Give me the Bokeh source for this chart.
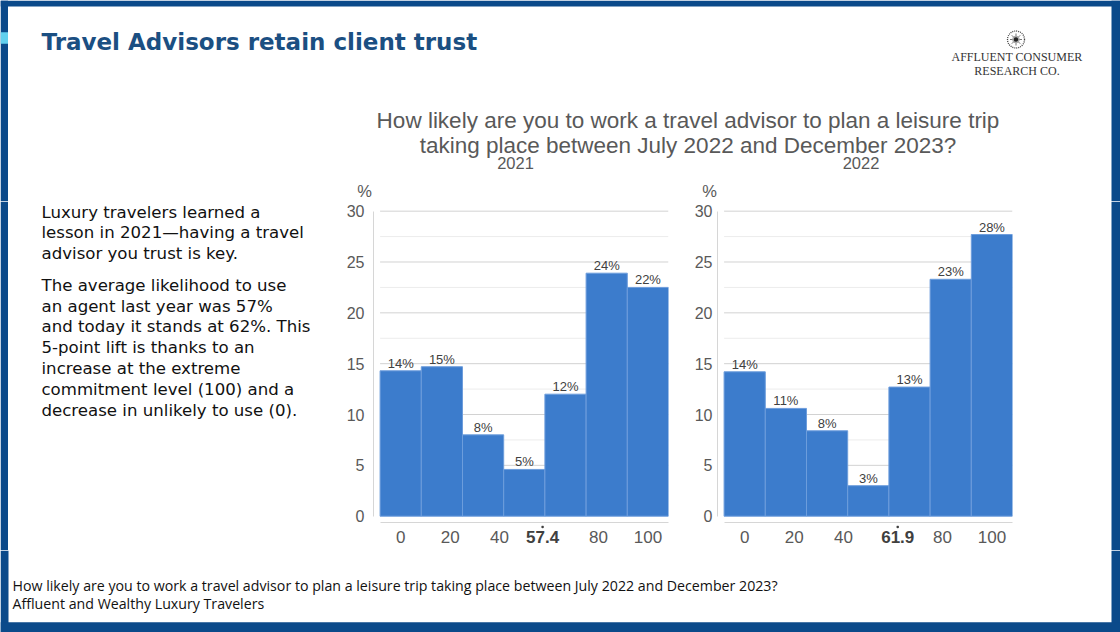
from bokeh.plotting import figure
from bokeh.models import Range1d, FixedTicker
from bokeh.layouts import row, column
from bokeh.embed import file_html
from bokeh.resources import INLINE
from bokeh.core.properties import value

# ---------------- data ----------------
BIN_CENTERS = [0, 16.667, 33.333, 50, 66.667, 83.333, 100]
BIN_WIDTH = 16.667
SHARE_2021 = [14.3, 14.7, 8.0, 4.6, 12.0, 23.9, 22.5]
LABELS_2021 = ["14%", "15%", "8%", "5%", "12%", "24%", "22%"]
MEAN_2021 = 57.4
SHARE_2022 = [14.2, 10.6, 8.4, 3.0, 12.7, 23.3, 27.7]
LABELS_2022 = ["14%", "11%", "8%", "3%", "13%", "23%", "28%"]
MEAN_2022 = 61.9
X_TICKS = [0, 20, 40, 80, 100]
X_TICK_LABELS = ["0", "20", "40", "80", "100"]
Y_TICKS = [0, 5, 10, 15, 20, 25, 30]
GRID_MAJOR = [5, 10, 15, 20, 25, 30]
GRID_MINOR = [2.5, 7.5, 12.5, 17.5, 22.5, 27.5]

SLIDE_TITLE = "Travel Advisors retain client trust"
CHART_TITLE = ["How likely are you to work a travel advisor to plan a leisure trip",
               "taking place between July 2022 and December 2023?"]
YEARS = ["2021", "2022"]
BODY_P1 = ["Luxury travelers learned a", "lesson in 2021\u2014having a travel",
           "advisor you trust is key."]
BODY_P2 = ["The average likelihood to use", "an agent last year was 57%",
           "and today it stands at 62%. This", "5-point lift is thanks to an",
           "increase at the extreme", "commitment level (100) and a",
           "decrease in unlikely to use (0)."]
FOOTER = ["How likely are you to work a travel advisor to plan a leisure trip taking place between July 2022 and December 2023?",
          "Affluent and Wealthy Luxury Travelers"]
LOGO = ["AFFLUENT CONSUMER", "RESEARCH CO."]

BLUE = "#0b4a8a"
CYAN = "#62d0ee"
BAR = "#3c7ccc"
GREY_TXT = "#595959"
AX = "#d6d6d6"
X_RANGE = (-11.0, 108.33)
Y_RANGE = (-0.62, 30.95)

TOP_H = 201          # page rows: 0..201, 201..550, 550..632
MID_H = 349
CHART_BOTTOM = 525   # chart canvas 201..525, tick-label strip 525..550


def canvas(w, h, x0, x1, y0, y1, xr=None, mb_left=0, mb_right=0):
    p = figure(width=w, height=h,
               x_range=xr if xr is not None else Range1d(x0, x1),
               y_range=Range1d(y1, y0),
               x_axis_location=None, y_axis_location=None, min_border=0,
               min_border_left=mb_left, min_border_right=mb_right,
               output_backend="svg", toolbar_location=None)
    p.outline_line_color = None
    p.background_fill_color = "white"
    p.border_fill_color = "white"
    p.xgrid.visible = False
    p.ygrid.visible = False
    return p


def strip(p, l, r, t, b, color=BLUE):
    p.quad(left=[l], right=[r], top=[t], bottom=[b], fill_color=color, line_color=None)


# ---------------- top ----------------
top = canvas(1120, TOP_H, 0, 1120, 0, TOP_H)
strip(top, 0, 1120, 0, 6)
strip(top, 0, 7.5, 0, TOP_H)
strip(top, 0, 7.5, 31.7, 43.3, CYAN)
strip(top, 1111, 1120, 0, TOP_H)
top.text(x=[41], y=[41.5], text=[SLIDE_TITLE], text_font=value("DejaVu Sans"),
         text_font_style="bold", text_font_size="23px", text_color="#1b4f82",
         text_baseline="middle")
# logo
top.scatter(x=[1015.5], y=[39], marker="circle", size=17, fill_color=None,
            line_color="#444444", line_dash="1 1", line_width=1.3)
top.scatter(x=[1015.5], y=[39], marker="asterisk", size=12, line_color="#777777")
top.scatter(x=[1015.5], y=[39], marker="circle", size=6, fill_color="#222222",
            line_color="#aaaaaa", line_width=1.5)
top.text(x=[1016.5, 1016.5], y=[56.7, 70.3], text=LOGO, text_font=value("Liberation Serif"),
         text_font_size="12px", text_color="#333333", text_align="center",
         text_baseline="middle")
top.text(x=[687.5, 687.5], y=[119.7, 144.5], text=CHART_TITLE,
         text_font=value("Liberation Sans"), text_font_size="22.5px", text_color=GREY_TXT,
         text_align="center", text_baseline="middle")
top.text(x=[515, 860.5], y=[162.5, 162.5], text=YEARS,
         text_font=value("Liberation Sans"), text_font_size="16.5px", text_color=GREY_TXT,
         text_align="center", text_baseline="middle")
top.text(x=[364, 709], y=[190.5, 190.5], text=["%", "%"],
         text_font=value("Liberation Sans"), text_font_size="16.5px", text_color=GREY_TXT,
         text_align="center", text_baseline="middle")

# ---------------- left text ----------------
left = canvas(335, MID_H, 0, 335, TOP_H, 550)
strip(left, 0, 7.5, TOP_H, 550)
y1 = [211.5, 232, 252.5]
y2 = [284.5, 305.5, 326.3, 347.1, 367.9, 388.7, 409.5]
left.text(x=[41] * len(BODY_P1 + BODY_P2), y=y1 + y2, text=BODY_P1 + BODY_P2,
          text_font=value("DejaVu Sans"), text_font_size="16.6px", text_color="#111111",
          text_baseline="middle")


# ---------------- charts ----------------
def chart(share, labels, mean, fig_w, mb_left, mb_right, y_standoff):
    xr = Range1d(*X_RANGE)
    p = figure(width=fig_w, height=CHART_BOTTOM - TOP_H, x_range=xr,
               y_range=Range1d(*Y_RANGE), min_border_left=mb_left,
               min_border_right=mb_right, min_border_top=0,
               min_border_bottom=CHART_BOTTOM - 522,
               output_backend="svg", toolbar_location=None)
    p.outline_line_color = None
    p.background_fill_color = "white"
    p.border_fill_color = "white"
    p.grid.visible = False
    n = len(GRID_MINOR)
    p.segment(x0=[-8.333] * n, x1=[108.333] * n, y0=GRID_MINOR, y1=GRID_MINOR,
              line_color="#ececec", line_width=1)
    m = len(GRID_MAJOR)
    p.segment(x0=[-8.333] * m, x1=[108.333] * m, y0=GRID_MAJOR, y1=GRID_MAJOR,
              line_color="#d2d2d2", line_width=1)
    p.vbar(x=BIN_CENTERS, top=share, bottom=0, width=BIN_WIDTH, fill_color=BAR,
           line_color="#6d9ddc", line_width=1)
    p.text(x=BIN_CENTERS, y=share, text=labels, text_font=value("Liberation Sans"),
           text_font_size="13px", text_color="#404040", text_align="center",
           text_baseline="bottom")

    xa = p.xaxis[0]
    xa.ticker = FixedTicker(ticks=[])
    xa.bounds = (-8.333, 108.333)
    xa.major_label_standoff = 0
    ya = p.yaxis[0]
    ya.ticker = FixedTicker(ticks=Y_TICKS)
    ya.bounds = (0, 30)
    for ax in (xa, ya):
        ax.axis_line_color = AX
        ax.major_tick_line_color = None
        ax.minor_tick_line_color = None
        ax.major_tick_out = 0
        ax.major_tick_in = 0
        ax.minor_tick_out = 0
        ax.minor_tick_in = 0
        ax.major_label_text_font = "Liberation Sans"
        ax.major_label_text_color = GREY_TXT
    ya.major_label_text_font_size = "16px"
    ya.major_label_standoff = y_standoff

    # x tick labels strip, sharing the chart's x scale
    lab = canvas(fig_w, 550 - CHART_BOTTOM, 0, 0, CHART_BOTTOM, 550, xr=xr,
                 mb_left=mb_left, mb_right=mb_right)
    lab.text(x=X_TICKS, y=[536] * len(X_TICKS), text=X_TICK_LABELS,
             text_font=value("Liberation Sans"), text_font_size="17px",
             text_color=GREY_TXT, text_align="center", text_baseline="middle")
    lab.text(x=[mean], y=[536], text=[f"{mean}"], text_font=value("Liberation Sans"),
             text_font_style="bold", text_font_size="17px", text_color="#404040",
             text_align="center", text_baseline="middle")
    lab.scatter(x=[mean], y=[526.4], marker="circle", size=2.6, fill_color="#404040",
                line_color=None)
    return column(p, lab)


c1 = chart(SHARE_2021, LABELS_2021, MEAN_2021, 345, 38, 12, 9)
c2 = chart(SHARE_2022, LABELS_2022, MEAN_2022, 360, 37, 28, 5)

right = canvas(80, MID_H, 1040, 1120, TOP_H, 550)
strip(right, 1111, 1120, TOP_H, 550)

# ---------------- bottom ----------------
bottom = canvas(1120, 82, 0, 1120, 550, 632)
strip(bottom, 0, 8, 550, 632)
strip(bottom, 1111, 1120, 550, 632)
strip(bottom, 0, 1120, 621.7, 632)
bottom.text(x=[12, 12], y=[585.2, 602.5], text=FOOTER, text_font=value("Open Sans"),
            text_font_size="14.2px", text_color="#111111", text_baseline="middle")

layout = column(top, row(left, c1, c2, right), bottom)

open("out.html", "w").write(file_html(layout, INLINE))
